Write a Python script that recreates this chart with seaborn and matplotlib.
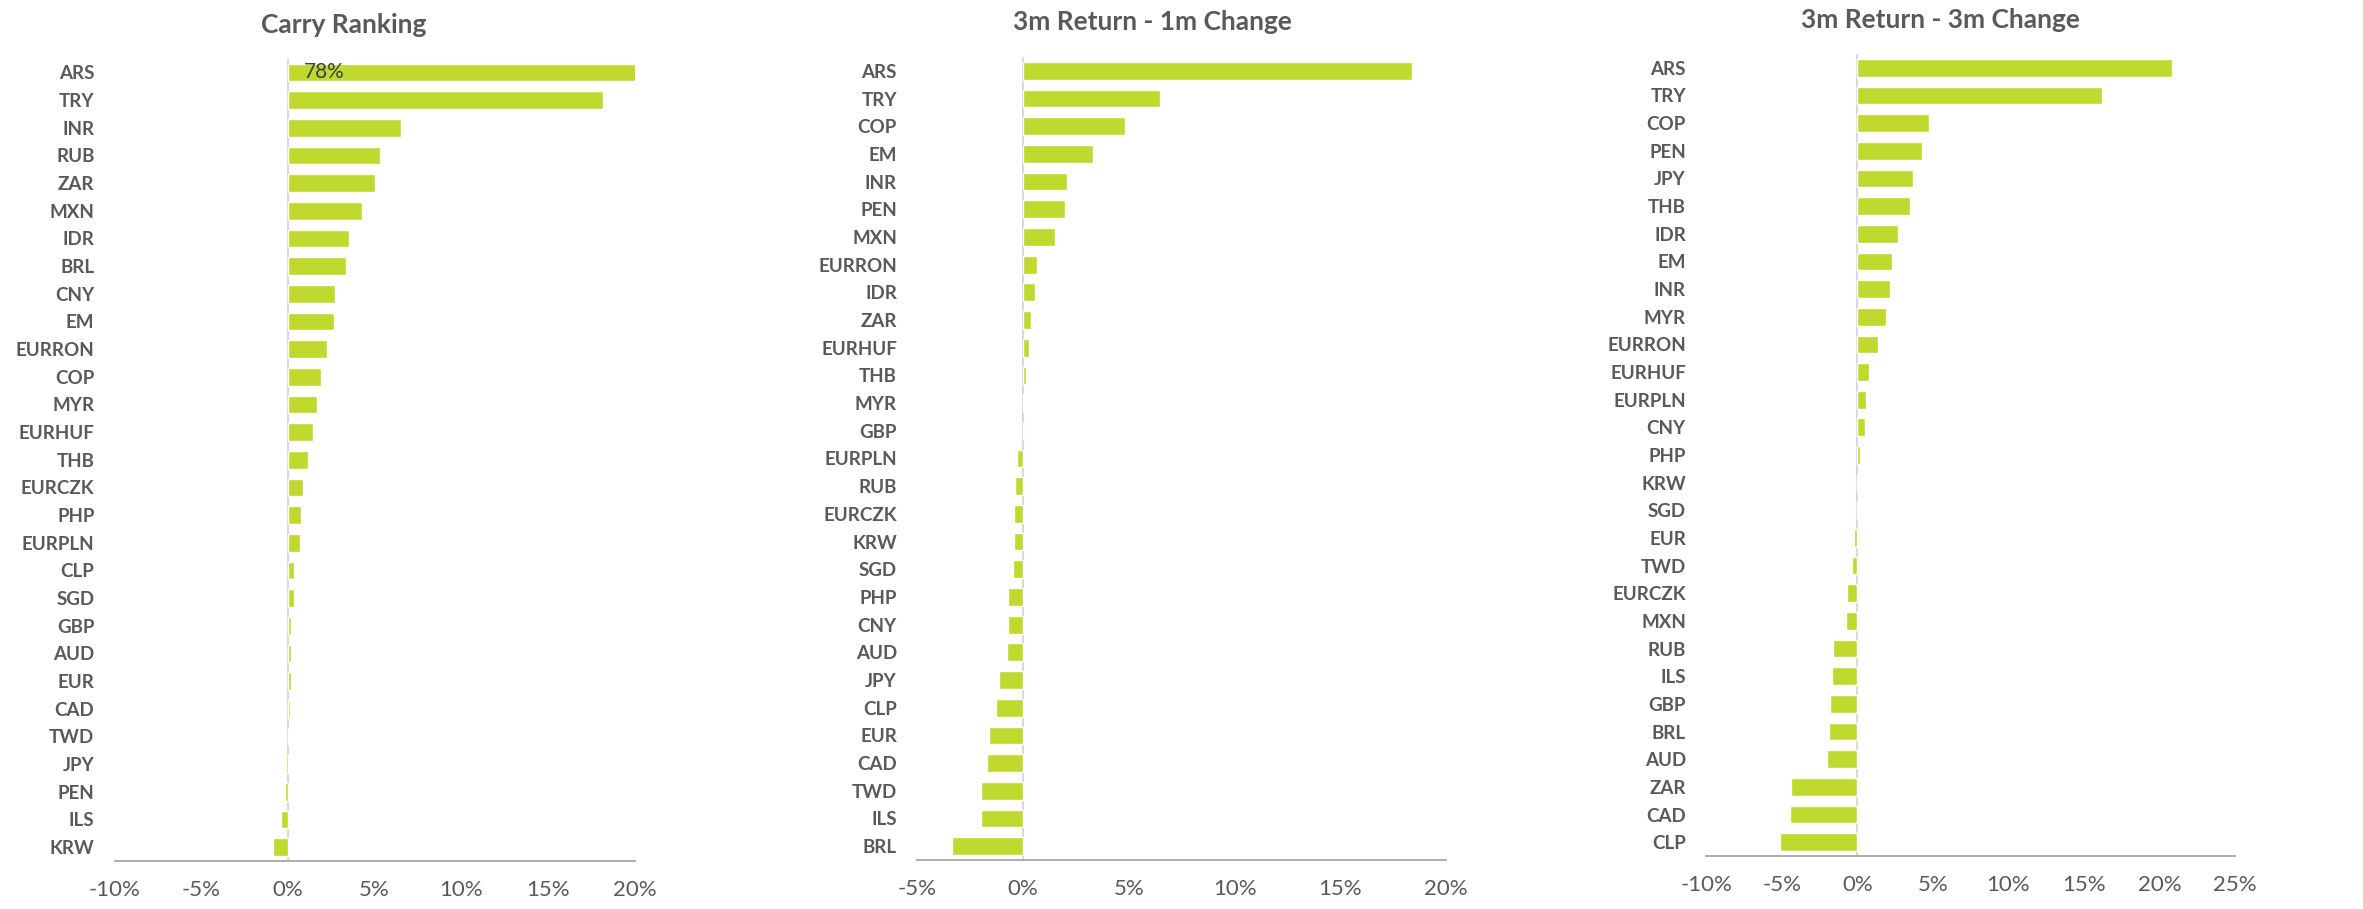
import pandas as pd
import seaborn as sns
import matplotlib.pyplot as plt
from matplotlib.ticker import FuncFormatter

# Panel data (values in %)
carry_labels = ['ARS', 'TRY', 'INR', 'RUB', 'ZAR', 'MXN', 'IDR', 'BRL', 'CNY', 'EM',
                'EURRON', 'COP', 'MYR', 'EURHUF', 'THB', 'EURCZK', 'PHP', 'EURPLN',
                'CLP', 'SGD', 'GBP', 'AUD', 'EUR', 'CAD', 'TWD', 'JPY', 'PEN', 'ILS', 'KRW']
carry_values = [78.0, 18.2, 6.5, 5.3, 5.0, 4.25, 3.5, 3.35, 2.7, 2.65,
                2.27, 1.88, 1.67, 1.47, 1.16, 0.87, 0.75, 0.72,
                0.33, 0.33, 0.2, 0.2, 0.15, 0.1, 0.02, -0.1, -0.18, -0.39, -0.87]

ret1m_labels = ['ARS', 'TRY', 'COP', 'EM', 'INR', 'PEN', 'MXN', 'EURRON', 'IDR', 'ZAR',
                'EURHUF', 'THB', 'MYR', 'GBP', 'EURPLN', 'RUB', 'EURCZK', 'KRW', 'SGD',
                'PHP', 'CNY', 'AUD', 'JPY', 'CLP', 'EUR', 'CAD', 'TWD', 'ILS', 'BRL']
ret1m_values = [18.4, 6.48, 4.83, 3.29, 2.09, 1.99, 1.52, 0.68, 0.57, 0.4,
                0.28, 0.17, 0.05, 0.0, -0.29, -0.38, -0.42, -0.42, -0.48,
                -0.70, -0.72, -0.76, -1.12, -1.29, -1.62, -1.69, -1.98, -2.0, -3.33]

ret3m_labels = ['ARS', 'TRY', 'COP', 'PEN', 'JPY', 'THB', 'IDR', 'EM', 'INR', 'MYR',
                'EURRON', 'EURHUF', 'EURPLN', 'CNY', 'PHP', 'KRW', 'SGD', 'EUR', 'TWD',
                'EURCZK', 'MXN', 'RUB', 'ILS', 'GBP', 'BRL', 'AUD', 'ZAR', 'CAD', 'CLP']
ret3m_values = [20.8, 16.2, 4.77, 4.3, 3.7, 3.5, 2.7, 2.32, 2.19, 1.87,
                1.38, 0.8, 0.55, 0.52, 0.16, 0.0, 0.0, -0.19, -0.36,
                -0.71, -0.74, -1.61, -1.64, -1.8, -1.84, -2.0, -4.39, -4.44, -5.12]

titles = ['Carry Ranking', '3m Return - 1m Change', '3m Return - 3m Change']
xlims = [(-10, 20), (-5, 20), (-10, 25)]

BAR_COLOR = '#C0D92F'
TEXT_COLOR = '#595959'
AXIS_COLOR = '#A6A6A6'

sns.set_style("white")
plt.rcParams['font.family'] = ['Lato', 'DejaVu Sans']

fig = plt.figure(figsize=(23.63, 9.09), dpi=100)
rects = [[0.0485, 0.0528, 0.2201, 0.8828],
         [0.3881, 0.0539, 0.2239, 0.8834],
         [0.7220, 0.0583, 0.2239, 0.8823]]
title_pos = [(344 / 2363, 1 - 25 / 909), (1152 / 2363, 1 - 22 / 909), (1940 / 2363, 1 - 20 / 909)]

panels = [(carry_labels, carry_values), (ret1m_labels, ret1m_values), (ret3m_labels, ret3m_values)]

for i, (labels, values) in enumerate(panels):
    ax = fig.add_axes(rects[i])
    df = pd.DataFrame({'ccy': labels, 'val': values})
    sns.barplot(data=df, x='val', y='ccy', orient='h', color=BAR_COLOR,
                saturation=1, width=0.64, ax=ax)
    ax.set_xlim(*xlims[i])
    ax.set_ylim(len(labels) - 0.5, -0.5)
    ax.axvline(0, color='#D9D9D9', lw=1.5, zorder=0)
    ax.set_xlabel('')
    ax.set_ylabel('')
    ax.set_xticks(range(xlims[i][0], xlims[i][1] + 1, 5))
    ax.xaxis.set_major_formatter(FuncFormatter(lambda v, p: f'{v:.0f}%'))
    for s in ['top', 'right', 'left']:
        ax.spines[s].set_visible(False)
    ax.spines['bottom'].set_color(AXIS_COLOR)
    ax.spines['bottom'].set_linewidth(1.3)
    ax.tick_params(axis='x', direction='out', length=5, width=1.3, color=AXIS_COLOR,
                   labelsize=16, labelcolor=TEXT_COLOR, pad=9)
    ax.tick_params(axis='y', length=0, labelsize=13.5, labelcolor=TEXT_COLOR, pad=14.5)
    for lab in ax.get_yticklabels():
        lab.set_fontweight('bold')
    fig.text(title_pos[i][0], title_pos[i][1], titles[i], ha='center', va='center',
             fontsize=19, fontweight='bold', color=TEXT_COLOR)
    if i == 0:
        # ARS carry runs off the scale, label its real value
        ax.text(0.9, 0, f'{values[0]:.0f}%', ha='left', va='center',
                fontsize=15, color='#404040')

fig.savefig('out.png', dpi=100)
